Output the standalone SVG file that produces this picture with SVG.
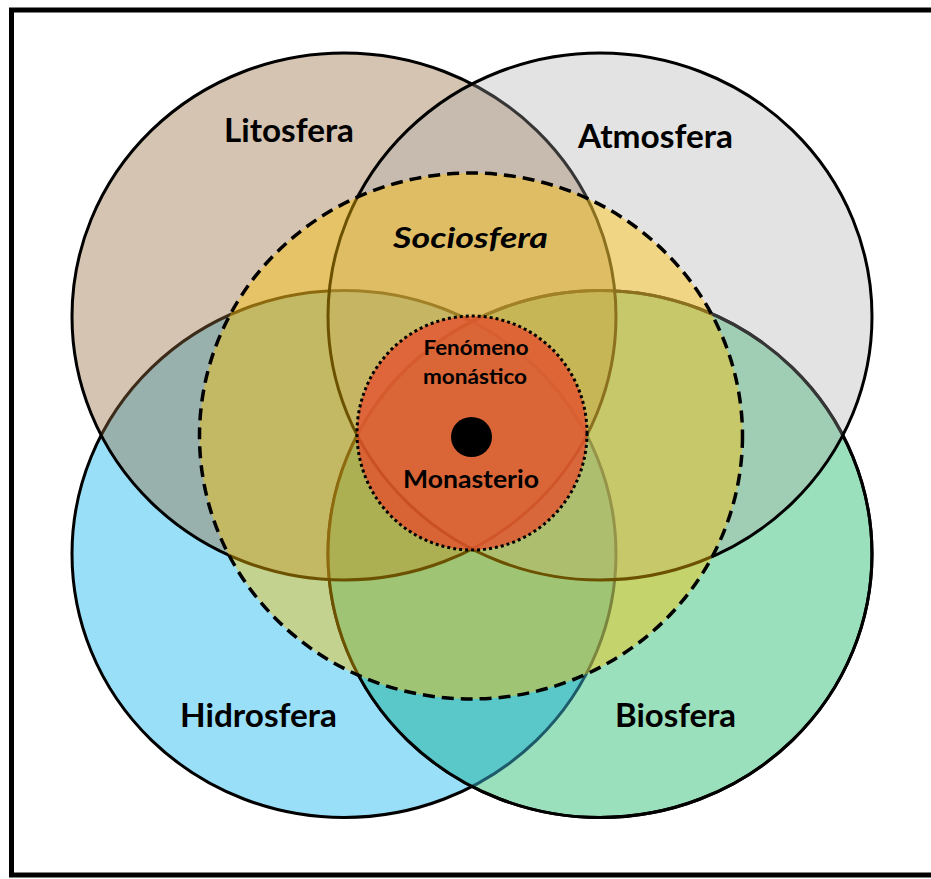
<svg xmlns="http://www.w3.org/2000/svg" width="931" height="879" viewBox="0 0 931 879">
<style>
.ring{stroke:#000;stroke-width:3}
.lbl{font-family:Lato,"Open Sans","Liberation Sans",sans-serif;font-weight:bold;fill:#000;text-anchor:middle}
</style>
<defs>
<clipPath id="clipHidro"><ellipse cx="344" cy="554" rx="272" ry="263.5"/></clipPath>
<clipPath id="clipBio"><ellipse cx="600" cy="554" rx="272" ry="263.5"/></clipPath>
</defs>
<rect x="0" y="0" width="931" height="879" fill="#fff"/>
<rect id="frame" x="11.5" y="10" width="930" height="865" fill="none" stroke="#000" stroke-width="5"/>

<g id="hidrosfera">
<ellipse class="ring" cx="344" cy="554" rx="272" ry="263.5" fill="#99dff8"/>
</g>
<g id="biosfera">
<ellipse class="ring" cx="600" cy="554" rx="272" ry="263.5" fill="#9be0bc"/>
<ellipse cx="600" cy="554" rx="272" ry="263.5" fill="#5ac8c9" clip-path="url(#clipHidro)"/>
<ellipse cx="344" cy="554" rx="272" ry="263.5" fill="none" stroke="#1d5a6a" stroke-width="3" clip-path="url(#clipBio)"/>
<ellipse cx="600" cy="554" rx="272" ry="263.5" fill="none" stroke="#000" stroke-width="3"/>
</g>
<g id="litosfera">
<ellipse class="ring" cx="344" cy="316.5" rx="272" ry="263.5" fill="#966b3c" fill-opacity="0.4"/>
</g>
<g id="atmosfera">
<ellipse class="ring" cx="600" cy="316.5" rx="272" ry="263.5" fill="#a8a8a8" fill-opacity="0.32"/>
</g>
<g id="sociosfera">
<ellipse cx="471" cy="436" rx="271.5" ry="263" fill="#ffc000" fill-opacity="0.42" stroke="#000" stroke-width="3.5" stroke-dasharray="12 7"/>
</g>
<g id="fenomeno-monastico">
<ellipse cx="472" cy="433" rx="115" ry="117" fill="#e4502e" fill-opacity="0.78" stroke="#000" stroke-width="3" stroke-dasharray="3 3"/>
</g>
<g id="monasterio">
<ellipse cx="471.5" cy="437" rx="20.5" ry="20" fill="#000"/>
</g>

<g id="labels">
<text class="lbl" x="289" y="142" font-size="32" textLength="130" lengthAdjust="spacingAndGlyphs">Litosfera</text>
<text class="lbl" x="655.5" y="147.5" font-size="32" textLength="155" lengthAdjust="spacingAndGlyphs">Atmosfera</text>
<text class="lbl" x="470.5" y="248" font-size="28" font-style="italic" textLength="155" lengthAdjust="spacingAndGlyphs">Sociosfera</text>
<text class="lbl" x="476" y="355" font-size="21" textLength="105" lengthAdjust="spacingAndGlyphs">Fenómeno</text>
<text class="lbl" x="475" y="383.5" font-size="21" textLength="104" lengthAdjust="spacingAndGlyphs">monástico</text>
<text class="lbl" x="471" y="488" font-size="24" textLength="136" lengthAdjust="spacingAndGlyphs">Monasterio</text>
<text class="lbl" x="258.5" y="727" font-size="32" textLength="157" lengthAdjust="spacingAndGlyphs">Hidrosfera</text>
<text class="lbl" x="675.5" y="727" font-size="32" textLength="121" lengthAdjust="spacingAndGlyphs">Biosfera</text>
</g>
</svg>
